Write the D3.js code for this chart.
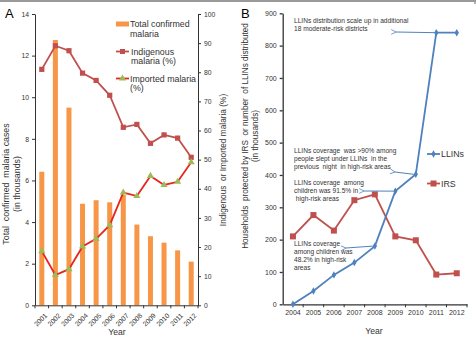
<!DOCTYPE html>
<html><head><meta charset="utf-8">
<script src="https://cdn.jsdelivr.net/npm/d3@7"></script>
<style>
body{margin:0;background:#fff}
svg{display:block;font-family:"Liberation Sans",Arial,sans-serif}
text{white-space:pre}
</style></head>
<body><svg id="c" width="476" height="337"></svg>
<script>
// Panel A data
const yearsA = ["2001","2002","2003","2004","2005","2006","2007","2008","2009","2010","2011","2012"];
const totalCases = [6.42, 12.75, 9.5, 4.88, 5.05, 4.95, 5.3, 3.88, 3.32, 3.01, 2.64, 2.1];
const indigenousPct = [81.0, 89.1, 87.4, 79.7, 77.2, 72.1, 61.1, 62.1, 55.6, 58.5, 57.4, 50.8];
const importedPct = [18.6, 10.4, 12.4, 20.2, 22.8, 27.5, 38.7, 37.5, 44.4, 41.3, 42.4, 49.1];
const ticksLeftA = [0,2,4,6,8,10,12,14];
const ticksRightA = [0,10,20,30,40,50,60,70,80,90,100];
// Panel B data
const yearsB = ["2004","2005","2006","2007","2008","2009","2010","2011","2012"];
const llins = [0, 41, 91, 129, 180, 350, 402, 840, 840];
const irs = [210, 276, 228, 322, 340, 210, 198, 92, 96];
const ticksB = [0,100,200,300,400,500,600,700,800,900];
const notes = [
  {lines:["LLINs distribution scale up in additional","18 moderate-risk districts"], year:"2011"},
  {lines:["LLINs coverage  was >90% among","people slept under LLINs  in the","previous  night  in high-risk areas"], year:"2010"},
  {lines:["LLINs coverage  among","children was 91.5% in"," high-risk areas"], year:"2009"},
  {lines:["LLINs coverage","among children was","48.2% in high-risk","areas"], year:"2008"}
];

const svg = d3.select("#c");
const ORANGE="#F79646", DRED="#C0504D", RED="#E8261E", GREEN="#9BBB59", BLUE="#4F81BD";
const AX="#333";

// frame
svg.append("line").attr("x1",0).attr("x2",476).attr("y1",1).attr("y2",1).attr("stroke","#9a9a9a").attr("stroke-width",2);
svg.append("line").attr("x1",475).attr("x2",475).attr("y1",0).attr("y2",4).attr("stroke","#9a9a9a").attr("stroke-width",1.5);

// ===== Panel A =====
const xA = d3.scaleBand().domain(yearsA).range([35,198]);
const yL = d3.scaleLinear().domain([0,14]).range([305.3,14]);
const yR = d3.scaleLinear().domain([0,100]).range([305.3,14]);
const gA = svg.append("g");

svg.append("text").attr("x",5).attr("y",18).attr("font-size",13).text("A");

// bars
const bw = 5;
gA.selectAll("rect.bar").data(totalCases).join("rect")
  .attr("x",(d,i)=>xA(yearsA[i])+xA.bandwidth()/2-bw/2)
  .attr("width",bw).attr("y",d=>yL(d)).attr("height",d=>yL(0)-yL(d)).attr("fill",ORANGE);

// left axis
const axL = gA.append("g").attr("transform","translate(35,0)")
  .call(d3.axisLeft(yL).tickValues(ticksLeftA).tickSize(3).tickSizeOuter(0).tickFormat(d3.format("d")));
// right axis
const axR = gA.append("g").attr("transform","translate(198,0)")
  .call(d3.axisRight(yR).tickValues(ticksRightA).tickSize(3).tickSizeOuter(0).tickFormat(d3.format("d")));
// bottom axis
const axB = gA.append("g").attr("transform","translate(0,305.3)")
  .call(d3.axisBottom(xA).tickSize(0).tickSizeOuter(0));
axB.selectAll(".tick text").attr("transform","translate(2,7) rotate(-45)").attr("text-anchor","end").attr("dx",0).attr("dy","0.35em");
gA.append("g").selectAll("line").data(yearsA.concat(["end"])).join("line")
  .attr("x1",(d,i)=> i<yearsA.length ? xA(d) : 198).attr("x2",(d,i)=> i<yearsA.length ? xA(d) : 198)
  .attr("y1",305.3).attr("y2",308.3).attr("stroke",AX);
[axL,axR,axB].forEach(a=>{a.selectAll("path,line").attr("stroke",AX);a.selectAll("text").attr("font-size",6.8).attr("fill","#333");});

// lines A
const cx = (i)=>xA(yearsA[i])+xA.bandwidth()/2;
const lineInd = d3.line().x((d,i)=>cx(i)).y(d=>yR(d));
gA.append("path").datum(indigenousPct).attr("d",lineInd).attr("fill","none").attr("stroke",DRED).attr("stroke-width",1.8);
gA.selectAll("rect.ind").data(indigenousPct).join("rect")
  .attr("x",(d,i)=>cx(i)-2.6).attr("y",d=>yR(d)-2.6).attr("width",5.2).attr("height",5.2).attr("fill",DRED);
gA.append("path").datum(importedPct).attr("d",lineInd).attr("fill","none").attr("stroke",RED).attr("stroke-width",1.8);
const tri = d3.symbol().type(d3.symbolTriangle).size(22);
gA.selectAll("path.imp").data(importedPct).join("path")
  .attr("d",tri).attr("transform",(d,i)=>`translate(${cx(i)},${yR(d)})`).attr("fill",GREEN);

// legend A
const lgA = gA.append("g").attr("font-size",8.8).attr("fill","#333");
lgA.append("rect").attr("x",116).attr("y",21.5).attr("width",13).attr("height",5).attr("fill",ORANGE);
lgA.append("text").attr("x",130).attr("y",27).text("Total confirmed");
lgA.append("text").attr("x",130).attr("y",36.5).text("malaria");
lgA.append("line").attr("x1",116).attr("x2",129).attr("y1",51.5).attr("y2",51.5).attr("stroke",DRED).attr("stroke-width",1.8);
lgA.append("rect").attr("x",120).attr("y",49).attr("width",5).attr("height",5).attr("fill",DRED);
lgA.append("text").attr("x",131).attr("y",54.5).text("Indigenous");
lgA.append("text").attr("x",131).attr("y",64).text("malaria (%)");
lgA.append("line").attr("x1",116).attr("x2",129).attr("y1",78.5).attr("y2",78.5).attr("stroke",RED).attr("stroke-width",1.8);
lgA.append("path").attr("d",tri).attr("transform","translate(122.5,78.5)").attr("fill",GREEN);
lgA.append("text").attr("x",130).attr("y",81.5).text("Imported malaria");
lgA.append("text").attr("x",130).attr("y",91).text("(%)");

// axis titles A
svg.append("text").attr("transform","translate(8.5,184) rotate(-90)").attr("text-anchor","middle").attr("font-size",8.8).attr("fill","#333").text("Total  confirmed  malaria cases");
svg.append("text").attr("transform","translate(19.5,184) rotate(-90)").attr("text-anchor","middle").attr("font-size",8.8).attr("fill","#333").text("(in thousands)");
svg.append("text").attr("transform","translate(226,160) rotate(-90)").attr("text-anchor","middle").attr("font-size",8.3).attr("fill","#333").text("Indigenous  or Imported malaria (%)");
svg.append("text").attr("x",117).attr("y",335).attr("text-anchor","middle").attr("font-size",8.6).attr("fill","#333").text("Year");

// ===== Panel B =====
const xB = d3.scaleBand().domain(yearsB).range([282.7,467]);
const yB = d3.scaleLinear().domain([0,900]).range([304.3,13.3]);
const gB = svg.append("g");
svg.append("text").attr("x",241).attr("y",18).attr("font-size",13).text("B");

const axBL = gB.append("g").attr("transform","translate(282.7,0)")
  .call(d3.axisLeft(yB).tickValues(ticksB).tickSize(3).tickSizeOuter(0).tickFormat(d3.format("d")));
const axBB = gB.append("g").attr("transform","translate(0,304.3)")
  .call(d3.axisBottom(xB).tickSize(0).tickSizeOuter(0).tickPadding(6));
gB.append("g").selectAll("line").data(yearsB.slice(1).concat(["end"])).join("line")
  .attr("x1",(d,i)=> i<yearsB.length-1 ? xB(d) : 467).attr("x2",(d,i)=> i<yearsB.length-1 ? xB(d) : 467)
  .attr("y1",304.3).attr("y2",307.3).attr("stroke",AX);
[axBL,axBB].forEach(a=>{a.selectAll("path,line").attr("stroke",AX).attr("stroke-width",1.3);a.selectAll("text").attr("font-size",7).attr("fill","#333");});

const bx = (i)=>xB(yearsB[i])+xB.bandwidth()/2;
const lineB = d3.line().x((d,i)=>bx(i)).y(d=>yB(d));
gB.append("path").datum(irs).attr("d",lineB).attr("fill","none").attr("stroke",DRED).attr("stroke-width",1.8);
gB.selectAll("rect.irs").data(irs).join("rect")
  .attr("x",(d,i)=>bx(i)-3).attr("y",d=>yB(d)-3).attr("width",6).attr("height",6).attr("fill",DRED);
gB.append("path").datum(llins).attr("d",lineB).attr("fill","none").attr("stroke",BLUE).attr("stroke-width",1.8);
const dia = d3.symbol().type(d3.symbolDiamond).size(16);
gB.selectAll("path.ll").data(llins).join("path")
  .attr("d",dia).attr("transform",(d,i)=>`translate(${bx(i)},${yB(d)})`).attr("fill",BLUE);

// legend B
const lgB = gB.append("g").attr("font-size",8.8).attr("fill","#333");
lgB.append("line").attr("x1",427).attr("x2",440).attr("y1",154).attr("y2",154).attr("stroke",BLUE).attr("stroke-width",1.8);
lgB.append("path").attr("d",dia).attr("transform","translate(433.5,154)").attr("fill",BLUE);
lgB.append("text").attr("x",441).attr("y",157.2).text("LLINs");
lgB.append("line").attr("x1",427).attr("x2",440).attr("y1",183.5).attr("y2",183.5).attr("stroke",DRED).attr("stroke-width",1.8);
lgB.append("rect").attr("x",430.5).attr("y",180.5).attr("width",6).attr("height",6).attr("fill",DRED);
lgB.append("text").attr("x",441).attr("y",186.7).text("IRS");

// annotations
const defs = svg.append("defs");
defs.append("marker").attr("id","ah").attr("viewBox","0 0 10 10").attr("refX",1).attr("refY",5)
  .attr("markerWidth",6).attr("markerHeight",6).attr("orient","auto-start-reverse")
  .append("path").attr("d","M9,1 L1,5 L9,9").attr("fill","none").attr("stroke",BLUE).attr("stroke-width",1.3);
const noteY = [23, 153, 185, 246];
const arrowEnd = [[396,32],[395,172],[364,191],[346,248]];
notes.forEach((n,k)=>{
  const t = gB.append("text").attr("font-size",6.6).attr("fill","#333");
  n.lines.forEach((l,j)=>t.append("tspan").attr("x",294).attr("y",noteY[k]+j*8.1).text(l));
  const i = yearsB.indexOf(n.year);
  const px = bx(i), py = yB(llins[i]);
  gB.append("line").attr("x1",k===0?px:px-2).attr("y1",py)
    .attr("x2",arrowEnd[k][0]).attr("y2",arrowEnd[k][1])
    .attr("stroke",BLUE).attr("stroke-width",1).attr("marker-end","url(#ah)");
});

svg.append("text").attr("transform","translate(248,136) rotate(-90)").attr("text-anchor","middle").attr("font-size",8.2).attr("fill","#333").text("Households  protected by IRS  or number  of LLINs distributed");
svg.append("text").attr("transform","translate(258,136) rotate(-90)").attr("text-anchor","middle").attr("font-size",8.2).attr("fill","#333").text("(in thousands)");
svg.append("text").attr("x",374).attr("y",334).attr("text-anchor","middle").attr("font-size",8.6).attr("fill","#333").text("Year");
</script></body></html>
